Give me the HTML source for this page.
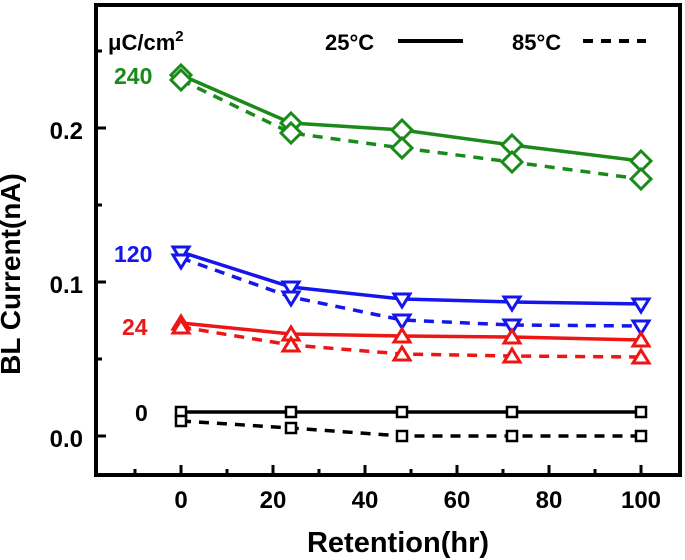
<!DOCTYPE html>
<html><head><meta charset="utf-8"><style>
html,body{margin:0;padding:0;background:#fff}
svg{display:block}
text{font-family:"Liberation Sans",sans-serif;font-weight:bold}
</style></head><body>
<svg width="685" height="560" viewBox="0 0 685 560" xmlns="http://www.w3.org/2000/svg">
<rect x="96" y="5" width="584" height="470" fill="none" stroke="#000" stroke-width="4"/>
<g stroke="#000" stroke-width="3">
<line x1="96" y1="436" x2="106" y2="436"/><line x1="96" y1="282" x2="106" y2="282"/><line x1="96" y1="128" x2="106" y2="128"/>
<line x1="96" y1="359" x2="102" y2="359"/><line x1="96" y1="205" x2="102" y2="205"/><line x1="96" y1="51" x2="102" y2="51"/>
<line x1="181" y1="475" x2="181" y2="465"/><line x1="273" y1="475" x2="273" y2="465"/><line x1="365" y1="475" x2="365" y2="465"/><line x1="457" y1="475" x2="457" y2="465"/><line x1="549" y1="475" x2="549" y2="465"/><line x1="641" y1="475" x2="641" y2="465"/>
<line x1="135" y1="475" x2="135" y2="469"/><line x1="227" y1="475" x2="227" y2="469"/><line x1="319" y1="475" x2="319" y2="469"/><line x1="411" y1="475" x2="411" y2="469"/><line x1="503" y1="475" x2="503" y2="469"/><line x1="595" y1="475" x2="595" y2="469"/>
</g>
<g font-size="24" text-anchor="end">
<text x="83" y="139">0.2</text><text x="83" y="293">0.1</text><text x="83" y="447">0.0</text>
</g>
<g font-size="24" text-anchor="middle">
<text x="181" y="508">0</text><text x="273" y="508">20</text><text x="365" y="508">40</text><text x="457" y="508">60</text><text x="549" y="508">80</text><text x="641" y="508">100</text>
</g>
<text x="398" y="552" font-size="29" text-anchor="middle">Retention(hr)</text>
<text transform="translate(20,274) rotate(-90)" font-size="28" text-anchor="middle">BL Current(nA)</text>
<text x="108" y="50" font-size="22">μC/cm<tspan font-size="15" dy="-9">2</tspan></text>
<text x="325" y="50" font-size="22">25°C</text>
<line x1="398" y1="41" x2="463" y2="41" stroke="#000" stroke-width="4"/>
<text x="512" y="50" font-size="22">85°C</text>
<line x1="583" y1="41" x2="646" y2="41" stroke="#000" stroke-width="4" stroke-dasharray="10,8"/>
<g font-size="23">
<text x="114" y="84" fill="#1a8a1a">240</text>
<text x="114" y="262" fill="#1515ee">120</text>
<text x="122" y="335" fill="#ee1515">24</text>
<text x="135" y="421" fill="#000">0</text>
</g>
<!-- green -->
<g stroke="#1a8a1a" stroke-width="3.5" fill="none">
<polyline points="181,75 291,123 402,130 512,145 641,161"/>
<polyline points="181,80 291,133 402,148 512,162 641,179" stroke-dasharray="10,8"/>
<g fill="#fff" stroke-width="3">
<path d="M181,65l10,10l-10,10l-10,-10z"/><path d="M291,113l10,10l-10,10l-10,-10z"/><path d="M402,120l10,10l-10,10l-10,-10z"/><path d="M512,135l10,10l-10,10l-10,-10z"/><path d="M641,151l10,10l-10,10l-10,-10z"/>
<path d="M181,70l10,10l-10,10l-10,-10z"/><path d="M291,123l10,10l-10,10l-10,-10z"/><path d="M402,138l10,10l-10,10l-10,-10z"/><path d="M512,152l10,10l-10,10l-10,-10z"/><path d="M641,169l10,10l-10,10l-10,-10z"/>
</g></g>
<!-- blue -->
<g stroke="#1515ee" stroke-width="3.5" fill="none">
<polyline points="181,252 291,287 402,299 512,302 641,304"/>
<polyline points="181,258 291,297 402,320 512,325 641,326" stroke-dasharray="10,8"/>
<g fill="#fff" stroke-width="3">
<path d="M173,247h16l-8,13z"/><path d="M283,282h16l-8,13z"/><path d="M394,294h16l-8,13z"/><path d="M504,297h16l-8,13z"/><path d="M633,299h16l-8,13z"/>
<path d="M173,255h16l-8,13z"/><path d="M283,292h16l-8,13z"/><path d="M394,315h16l-8,13z"/><path d="M504,320h16l-8,13z"/><path d="M633,321h16l-8,13z"/>
</g></g>
<!-- red -->
<g stroke="#ee1515" stroke-width="3.5" fill="none">
<polyline points="181,323 291,334 402,336 512,337 641,340"/>
<polyline points="181,327 291,345 402,354 512,356 641,357" stroke-dasharray="10,8"/>
<g fill="#fff" stroke-width="3">
<path d="M173,329h16l-8,-13z"/><path d="M283,340h16l-8,-13z"/><path d="M394,342h16l-8,-13z"/><path d="M504,343h16l-8,-13z"/><path d="M633,346h16l-8,-13z"/>
<path d="M173,333h16l-8,-13z"/><path d="M283,351h16l-8,-13z"/><path d="M394,360h16l-8,-13z"/><path d="M504,362h16l-8,-13z"/><path d="M633,363h16l-8,-13z"/>
</g></g>
<!-- black -->
<g stroke="#000" stroke-width="3.5" fill="none">
<polyline points="181,412 291,412 402,412 512,412 641,412"/>
<polyline points="181,421 291,428 402,436 512,436 641,436" stroke-dasharray="10,8"/>
<g fill="#fff" stroke-width="2.5">
<rect x="176" y="407" width="10" height="10"/><rect x="286" y="407" width="10" height="10"/><rect x="397" y="407" width="10" height="10"/><rect x="507" y="407" width="10" height="10"/><rect x="636" y="407" width="10" height="10"/>
<rect x="176" y="416" width="10" height="10"/><rect x="286" y="423" width="10" height="10"/><rect x="397" y="431" width="10" height="10"/><rect x="507" y="431" width="10" height="10"/><rect x="636" y="431" width="10" height="10"/>
</g></g>
</svg>
</body></html>
